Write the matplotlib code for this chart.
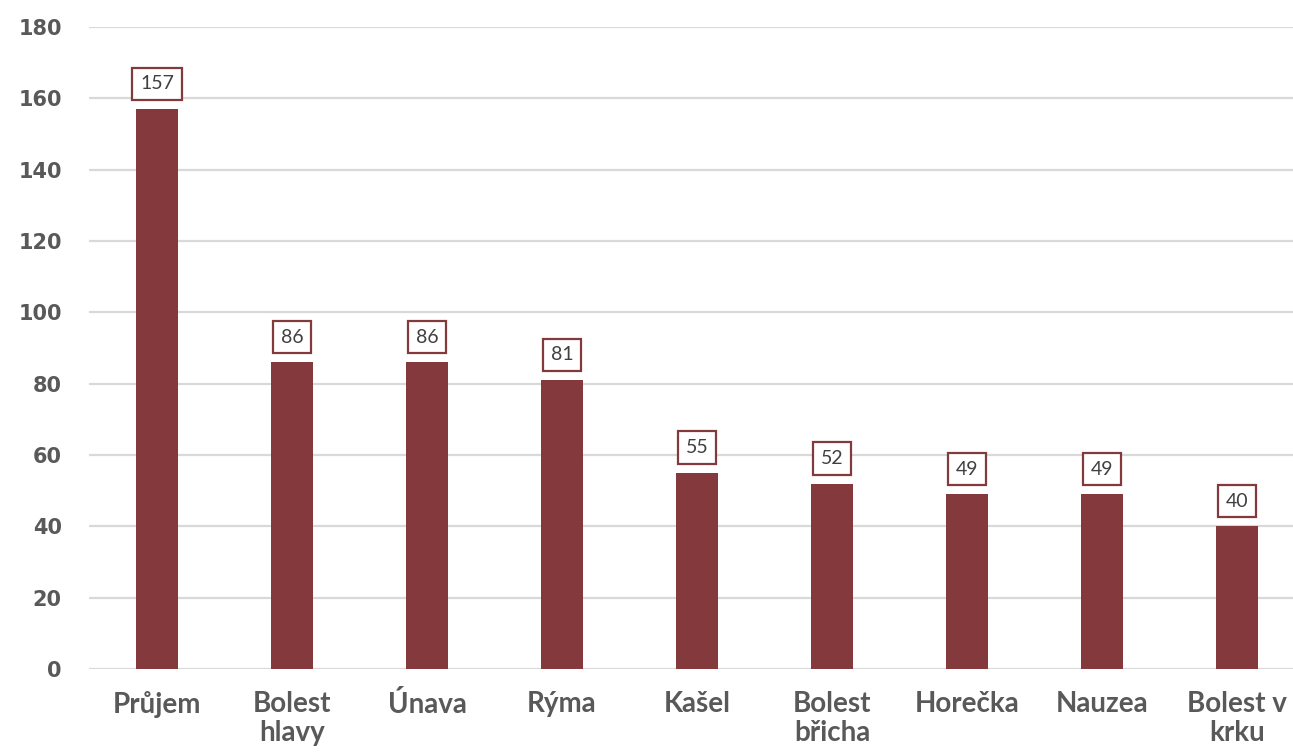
import matplotlib.pyplot as plt

categories = ["Průjem", "Bolest\nhlavy", "Únava", "Rýma", "Kašel",
              "Bolest\nbřicha", "Horečka", "Nauzea", "Bolest v\nkrku"]
values = [157, 86, 86, 81, 55, 52, 49, 49, 40]
yticks = [0, 20, 40, 60, 80, 100, 120, 140, 160, 180]

bar_color = "#843A3C"
text_grey = "#595959"

fig = plt.figure(figsize=(12.93, 7.56), dpi=100)
ax = fig.add_axes([0.0692, 0.115, 0.9308, 0.8493])

x = range(len(categories))
ax.bar(x, values, width=0.31, color=bar_color, zorder=3)

ax.set_ylim(0, 180)
ax.set_xlim(-0.5, 8.415)
ax.set_yticks(yticks)
ax.set_yticklabels([str(t) for t in yticks], fontfamily="DejaVu Sans",
                   fontweight="bold", fontsize=15, color=text_grey)
ax.set_xticks(list(x))
ax.set_xticklabels(categories, fontfamily="Lato", fontweight="bold",
                   fontsize=20, color=text_grey, linespacing=1.15, va="top")
ax.tick_params(axis="both", length=0)
ax.tick_params(axis="x", pad=16)
ax.tick_params(axis="y", pad=20)
ax.grid(axis="y", color="#D9D9D9", linewidth=1.6, zorder=0)
for s in ax.spines.values():
    s.set_visible(False)

for xi, v in zip(x, values):
    ax.annotate(str(v), (xi, v), xytext=(0, 12), textcoords="offset points",
                ha="center", va="bottom", fontfamily="Lato", fontsize=14,
                color="#404040", zorder=4,
                bbox=dict(boxstyle="square,pad=0.4", facecolor="white",
                          edgecolor=bar_color, linewidth=1.6))

fig.savefig("out.png", dpi=100)
